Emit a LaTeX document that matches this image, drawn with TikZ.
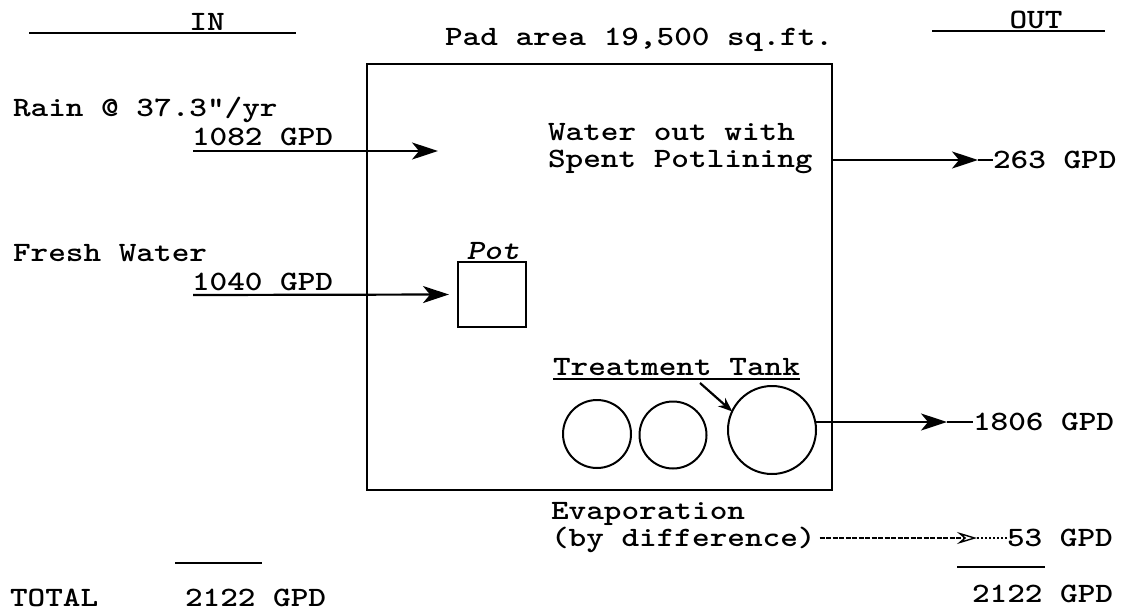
\documentclass[tikz,border=0pt]{standalone}
\usepackage{fontspec}
\usetikzlibrary{arrows.meta}
\newcommand{\tw}{\ttfamily\bfseries\fontsize{28}{34}\selectfont}
\newcommand{\sx}[1]{\scalebox{1.2}[1]{#1}}
\begin{document}
\begin{tikzpicture}[x=1pt,y=-1pt,
  every node/.style={font=\tw, inner sep=0pt, outer sep=0pt},
  lbl/.style={anchor=base west},
  ln/.style={line width=2.2pt},
  rule/.style={line width=1.8pt},
  arr/.style={line width=2.2pt, -{Stealth[length=26pt,width=17pt,inset=7pt]}},
  dotarr/.style={line width=1.4pt, dash pattern=on 5pt off 1.5pt, -{Stealth[length=20pt,width=12pt,inset=7pt,open]}},
  dotln/.style={line width=1.4pt, dash pattern=on 2pt off 2pt},
  tank/.style={draw, circle, line width=2pt},
]
\useasboundingbox (0,0) rectangle (1134,611);

% headings
\node (in) at (207,22) {\sx{IN}};
\draw[rule] (29,33) -- (296,33);
\node (out) at (1036,20) {\sx{OUT}};
\draw[rule] (932,31) -- (1105,31);
\node[lbl] (padlbl) at (445,45) {\sx{Pad area 19,500 sq.ft.}};

% pad area
\node[draw, line width=2.4pt, minimum width=465pt, minimum height=426pt] (pad) at (599.5,277) {};

% rain
\node[lbl] (rain) at (13,116) {\sx{Rain @ 37.3\symbol{34}/yr}};
\node[lbl] (q1082) at (192,145) {\sx{1082 GPD}};
\coordinate (rainS) at (193,151);
\coordinate (rainT) at (438,151);
\draw[arr] (rainS) -- (rainT);

% water out with potlining
\node[lbl] (wo1) at (548,140) {\sx{Water out with}};
\node[lbl] (wo2) at (548,167) {\sx{Spent Potlining}};
\node[lbl] (q263) at (993,168) {\sx{263 GPD}};
\coordinate (h263) at (978,160);
\draw[arr] (pad.east |- h263) -- (h263);
\draw[ln] (h263) -- (q263.west |- h263);

% fresh water
\node[lbl] (fresh) at (13,261) {\sx{Fresh Water}};
\node[lbl] (q1040) at (192,290) {\sx{1040 GPD}};
\node[draw, ln, minimum width=68pt, minimum height=65pt] (pot) at (492,294.5) {};
\node[anchor=base, font=\tw\itshape] (potlbl) at (493,259) {\sx{Pot}};
\coordinate (freshS) at (193,295);
\draw[arr] (freshS) -- ([xshift=-9pt]pot.west);

% treatment tanks
\node[lbl] (tt) at (553,375) {\sx{Treatment Tank}};
\draw[rule] ([yshift=-4pt]tt.base west) -- ([yshift=-4pt]tt.base east);
\node[tank, minimum size=68pt] (t1) at (597,434) {};
\node[tank, minimum size=67pt] (t2) at (673,435) {};
\node[tank, minimum size=88pt] (t3) at (772,430) {};
\coordinate (ptr) at (700,383);
\draw[line width=2.2pt, -{Stealth[length=14pt,width=11pt]}] (ptr) -- (t3.155);

\node[lbl] (q1806) at (973,430) {\sx{1806 GPD}};
\coordinate (h1806) at (947,422);
\draw[arr] (t3.east |- h1806) -- (h1806);
\draw[ln] (h1806) -- (q1806.west |- h1806);

% evaporation
\node[lbl] (evap1) at (551,519) {\sx{Evaporation}};
\node[lbl] (evap2) at (551,546) {\sx{(by difference)}};
\node[lbl] (q53) at (1007,546) {\sx{53 GPD}};
\coordinate (h53) at (977,538);
\draw[dotarr] ([xshift=4pt]evap2.east |- h53) -- (h53);
\draw[dotln] (h53) -- (q53.west |- h53);

% totals
\draw[rule] (957,567) -- (1045,567);
\node[lbl] (qtotR) at (972,602) {\sx{2122 GPD}};
\draw[rule] (175,563) -- (262,563);
\node[lbl] (total) at (10,606) {\sx{TOTAL}};
\node[lbl] (qtotL) at (185,606) {\sx{2122 GPD}};
\end{tikzpicture}
\end{document}
